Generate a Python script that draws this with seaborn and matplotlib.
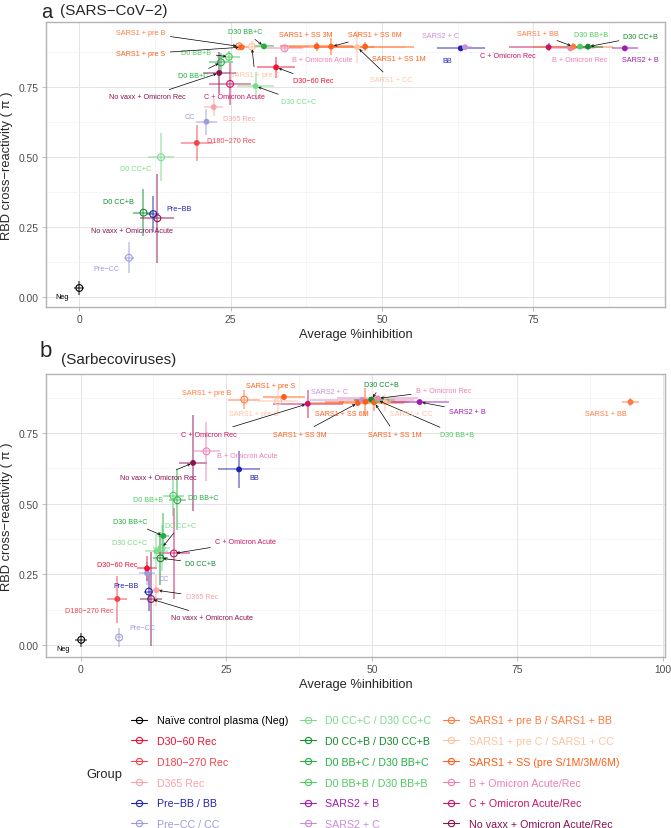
"""Cross-reactivity vs average %inhibition, two panels (SARS-CoV-2 / Sarbecoviruses)."""

import matplotlib

matplotlib.use("Agg")
import matplotlib.pyplot as plt
import pandas as pd
import seaborn as sns
from matplotlib.lines import Line2D

sns.set_theme(style="white")
plt.rcParams["font.family"] = ["Liberation Sans", "DejaVu Sans"]

# ---- groups (legend order) ----
GROUP_ORDER = ["neg", "d30", "d180", "d365", "bb", "cc",
               "ccc", "ccb", "bbc", "bbb", "s2b", "s2c",
               "s1b", "s1c", "s1s", "bom", "com", "nvo"]
GROUP_NAMES = {
    "neg": "Naïve control plasma (Neg)",
    "d30": "D30\u221260 Rec",
    "d180": "D180\u2212270 Rec",
    "d365": "D365 Rec",
    "bb": "Pre\u2212BB / BB",
    "cc": "Pre\u2212CC / CC",
    "ccc": "D0 CC+C / D30 CC+C",
    "ccb": "D0 CC+B / D30 CC+B",
    "bbc": "D0 BB+C / D30 BB+C",
    "bbb": "D0 BB+B / D30 BB+B",
    "s2b": "SARS2 + B",
    "s2c": "SARS2 + C",
    "s1b": "SARS1 + pre B / SARS1 + BB",
    "s1c": "SARS1 + pre C / SARS1 + CC",
    "s1s": "SARS1 + SS (pre S/1M/3M/6M)",
    "bom": "B + Omicron Acute/Rec",
    "com": "C + Omicron Acute/Rec",
    "nvo": "No vaxx + Omicron Acute/Rec",
}
PALETTE = {
    "neg": "#000000", "d30": "#EE1133", "d180": "#F4424F", "d365": "#F9A3A8",
    "bb": "#2222B0", "cc": "#9C9CDC", "ccc": "#7ADB8B", "ccb": "#138A2C",
    "bbc": "#24AF44", "bbb": "#4FCB62", "s2b": "#A01AB4", "s2c": "#C98ED9",
    "s1b": "#FF7A3D", "s1c": "#FFC2A2", "s1s": "#FF5E19", "bom": "#EE80B4",
    "com": "#C81466", "nvo": "#8A1150",
}

# ---- panel a: SARS-CoV-2 ----
a_label = ["Neg", "Pre\u2212CC", "Pre\u2212BB", "D0 CC+B", "No vaxx + Omicron Acute",
           "D0 CC+C", "D180\u2212270 Rec", "CC", "D365 Rec", "C + Omicron Acute",
           "D30 CC+C", "No vaxx + Omicron Rec", "D30\u221260 Rec", "D0 BB+C", "D0 BB+B",
           "SARS1 + pre B", "SARS1 + pre S", "SARS1 + pre C", "D30 BB+C",
           "B + Omicron Acute", "SARS1 + SS 3M", "SARS1 + SS 6M", "SARS1 + CC",
           "SARS1 + SS 1M", "BB", "SARS2 + C", "C + Omicron Rec", "B + Omicron Rec",
           "SARS1 + BB", "D30 BB+B", "D30 CC+B", "SARS2 + B"]
a_group = ["neg", "cc", "bb", "ccb", "nvo", "ccc", "d180", "cc", "d365", "com",
           "ccc", "nvo", "d30", "bbc", "bbb", "s1b", "s1s", "s1c", "bbc", "bom",
           "s1s", "s1s", "s1c", "s1s", "bb", "s2c", "com", "bom", "s1b", "bbb",
           "ccb", "s2b"]
a_x = [0.0, 8.2, 12.2, 10.6, 12.9, 13.5, 19.4, 21.0, 22.2, 24.9, 29.1, 23.1, 32.5,
       23.4, 24.7, 26.4, 26.8, 28.5, 30.5, 33.9, 39.2, 41.6, 45.9, 47.2, 63.0, 63.7,
       77.5, 81.1, 81.6, 82.7, 84.0, 90.1]
a_y = [0.033, 0.141, 0.297, 0.302, 0.282, 0.500, 0.551, 0.627, 0.679, 0.762, 0.754,
       0.801, 0.821, 0.839, 0.859, 0.896, 0.893, 0.895, 0.896, 0.889, 0.896, 0.895,
       0.893, 0.895, 0.889, 0.893, 0.893, 0.889, 0.895, 0.895, 0.895, 0.889]
a_xerr = [0.8, 0.8, 1.0, 1.8, 2.8, 2.1, 2.6, 1.7, 1.6, 3.4, 3.0, 2.7, 3.1, 2.0, 1.9,
          1.0, 1.2, 2.0, 1.6, 3.0, 6.0, 7.0, 8.0, 8.0, 4.0, 1.2, 6.5, 4.0, 6.6, 2.5,
          2.5, 2.2]
a_yerr = [0.025, 0.055, 0.065, 0.085, 0.158, 0.085, 0.065, 0.047, 0.032, 0.074, 0.05,
          0.075, 0.037, 0.034, 0.02, 0.008, 0.008, 0.02, 0.01, 0.01, 0.015, 0.03,
          0.057, 0.015, 0.006, 0.008, 0.015, 0.008, 0.012, 0.008, 0.008, 0.006]
a_open = [1, 1, 1, 1, 1, 1, 0, 0, 0, 1, 0, 0, 0, 1, 1, 1, 0, 1, 0, 1, 0, 0, 0, 0,
          0, 0, 0, 0, 0, 0, 0, 0]

# ---- panel b: Sarbecoviruses ----
b_label = ["Neg", "Pre\u2212CC", "D180\u2212270 Rec", "No vaxx + Omicron Acute", "Pre\u2212BB",
           "D365 Rec", "CC", "D30\u221260 Rec", "D0 CC+B", "C + Omicron Acute", "D30 CC+C",
           "D0 CC+C", "D30 BB+C", "D0 BB+C", "D0 BB+B", "BB", "No vaxx + Omicron Rec",
           "B + Omicron Acute", "SARS1 + pre B", "SARS1 + pre S", "SARS1 + pre C",
           "C + Omicron Rec", "SARS1 + SS 3M", "SARS2 + C", "SARS1 + SS 6M", "D30 CC+B",
           "SARS1 + SS 1M", "D30 BB+B", "B + Omicron Rec", "SARS1 + CC", "SARS2 + B",
           "SARS1 + BB"]
b_group = ["neg", "cc", "d180", "nvo", "bb", "d365", "cc", "d30", "ccb", "com", "ccc",
           "ccc", "bbc", "bbc", "bbb", "bb", "nvo", "bom", "s1b", "s1s", "s1c", "com",
           "s1s", "s2c", "s1s", "ccb", "s1s", "bbb", "bom", "s1c", "s2b", "s1b"]
b_x = [0.1, 6.6, 6.3, 12.1, 11.7, 13.0, 11.4, 11.4, 13.7, 16.0, 13.0, 13.9, 14.2, 16.6,
       15.9, 27.2, 19.3, 21.6, 28.1, 34.9, 33.9, 39.0, 47.6, 48.3, 48.9, 49.9, 50.4,
       50.9, 51.0, 52.3, 58.2, 94.4]
b_y = [0.019, 0.027, 0.163, 0.163, 0.189, 0.194, 0.254, 0.271, 0.307, 0.324, 0.331,
       0.343, 0.386, 0.512, 0.528, 0.621, 0.644, 0.685, 0.868, 0.877, 0.862, 0.853,
       0.856, 0.866, 0.860, 0.868, 0.858, 0.866, 0.872, 0.858, 0.859, 0.859]
b_xerr = [1.0, 0.3, 1.7, 1.95, 0.8, 1.0, 1.3, 1.7, 1.3, 2.7, 2.0, 1.5, 1.0, 1.5, 1.8,
          3.6, 2.35, 2.3, 2.75, 3.6, 3.5, 6.0, 8.0, 9.0, 7.0, 3.0, 6.0, 3.0, 7.0, 7.0,
          5.0, 1.5]
b_yerr = [0.025, 0.033, 0.083, 0.166, 0.068, 0.055, 0.04, 0.045, 0.094, 0.16, 0.06,
          0.08, 0.082, 0.106, 0.07, 0.064, 0.17, 0.104, 0.035, 0.01, 0.04, 0.05, 0.01,
          0.01, 0.05, 0.01, 0.03, 0.01, 0.01, 0.03, 0.008, 0.015]
b_open = [1, 1, 0, 1, 1, 0, 0, 0, 1, 1, 0, 1, 0, 1, 1, 0, 0, 1, 1, 0, 1, 0, 0, 0, 0,
          0, 0, 0, 0, 0, 0, 0]

# label placement (layout only): label -> (text x, text y, draw arrow)
a_text_pos = {
    "Neg": (-2.86, 0.004, False), "Pre\u2212CC": (4.41, 0.104, False),
    "Pre\u2212BB": (16.55, 0.318, False), "D0 CC+B": (6.47, 0.341, False),
    "No vaxx + Omicron Acute": (8.78, 0.238, False), "D0 CC+C": (9.36, 0.458, False),
    "D180\u2212270 Rec": (25.05, 0.561, False), "CC": (18.3, 0.645, False),
    "D365 Rec": (26.4, 0.637, False), "C + Omicron Acute": (25.6, 0.716, False),
    "D30 CC+C": (36.2, 0.699, True), "No vaxx + Omicron Rec": (11.26, 0.716, True),
    "D30\u221260 Rec": (38.6, 0.773, True), "D0 BB+C": (18.86, 0.791, True),
    "D0 BB+B": (19.35, 0.873, True), "SARS1 + pre B": (10.19, 0.946, True),
    "SARS1 + pre S": (10.19, 0.869, True), "SARS1 + pre C": (29.0, 0.794, True),
    "D30 BB+C": (27.4, 0.948, True), "B + Omicron Acute": (40.2, 0.848, False),
    "SARS1 + SS 3M": (37.4, 0.938, False), "SARS1 + SS 6M": (48.8, 0.937, True),
    "SARS1 + CC": (51.5, 0.777, True), "SARS1 + SS 1M": (52.7, 0.854, False),
    "BB": (60.7, 0.847, False), "SARS2 + C": (59.6, 0.934, False),
    "C + Omicron Rec": (70.8, 0.865, False), "B + Omicron Rec": (82.6, 0.849, False),
    "SARS1 + BB": (75.7, 0.943, True), "D30 BB+B": (84.6, 0.940, False),
    "D30 CC+B": (92.75, 0.931, True), "SARS2 + B": (92.6, 0.848, False),
}
b_text_pos = {
    "Neg": (-2.97, -0.012, False), "Pre\u2212CC": (10.6, 0.063, False),
    "D180\u2212270 Rec": (1.41, 0.121, False), "No vaxx + Omicron Acute": (22.6, 0.097, True),
    "Pre\u2212BB": (7.85, 0.212, False), "D365 Rec": (20.8, 0.171, True),
    "CC": (14.3, 0.236, False), "D30\u221260 Rec": (6.2, 0.286, False),
    "D0 CC+B": (20.6, 0.290, True), "C + Omicron Acute": (28.3, 0.365, True),
    "D30 CC+C": (8.45, 0.361, False), "D0 CC+C": (17.1, 0.424, True),
    "D30 BB+C": (8.45, 0.436, True), "D0 BB+C": (21.1, 0.520, False),
    "D0 BB+B": (11.6, 0.514, False), "BB": (29.85, 0.594, False),
    "No vaxx + Omicron Rec": (13.35, 0.594, True), "B + Omicron Acute": (28.6, 0.669, False),
    "SARS1 + pre B": (21.6, 0.891, False), "SARS1 + pre S": (32.7, 0.917, False),
    "SARS1 + pre C": (29.7, 0.820, False), "C + Omicron Rec": (22.1, 0.746, True),
    "SARS1 + SS 3M": (37.7, 0.746, True), "SARS2 + C": (42.8, 0.895, False),
    "SARS1 + SS 6M": (44.8, 0.820, False), "D30 CC+B": (51.7, 0.920, True),
    "SARS1 + SS 1M": (54.0, 0.746, True), "D30 BB+B": (64.6, 0.744, True),
    "B + Omicron Rec": (62.3, 0.900, True), "SARS1 + CC": (56.8, 0.818, False),
    "SARS2 + B": (66.4, 0.827, True), "SARS1 + BB": (90.2, 0.818, False),
}

LABEL_FS = 5.2
TICK_FS = 7.4
TITLE_FS = 9.3


def make_df(label, group, x, y, xerr, yerr, is_open):
    return pd.DataFrame({"label": label, "group": group, "x": x, "y": y,
                         "xerr": xerr, "yerr": yerr, "open": [bool(v) for v in is_open]})


def draw_panel(ax, df, text_pos, xlim, ylim, xticks):
    for row in df.itertuples():
        ax.errorbar(row.x, row.y, xerr=row.xerr, yerr=row.yerr, fmt="none",
                    ecolor=PALETTE[row.group], elinewidth=1.1, alpha=0.6,
                    capsize=0, zorder=2)

    sns.scatterplot(data=df[~df["open"]], x="x", y="y", hue="group", palette=PALETTE,
                    s=18, linewidth=0, legend=False, ax=ax, zorder=3)
    sns.scatterplot(data=df[df["open"]], x="x", y="y", hue="group", palette=PALETTE,
                    s=24, legend=False, ax=ax, zorder=3)
    hollow = ax.collections[-1]
    hollow.set_edgecolors(hollow.get_facecolors())
    hollow.set_facecolors("none")
    hollow.set_linewidth(0.8)

    for row in df.itertuples():
        tx, ty, arrow = text_pos[row.label]
        color = PALETTE[row.group]
        if arrow:
            ax.annotate(row.label, xy=(row.x, row.y), xytext=(tx, ty), color=color,
                        fontsize=LABEL_FS, ha="center", va="center", zorder=4,
                        arrowprops=dict(arrowstyle="->,head_length=0.3,head_width=0.15",
                                        color="black", lw=0.5, shrinkA=1, shrinkB=2))
        else:
            ax.text(tx, ty, row.label, color=color, fontsize=LABEL_FS,
                    ha="center", va="center", zorder=4)

    ax.set_xlim(*xlim)
    ax.set_ylim(*ylim)
    ax.set_xticks(xticks)
    minor_x = [t + 12.5 for t in xticks if t + 12.5 < xlim[1]]
    ax.set_xticks(minor_x, minor=True)
    ax.set_yticks([0, 0.25, 0.5, 0.75])
    ax.set_yticklabels(["0.00", "0.25", "0.50", "0.75"])
    ax.set_yticks([0.125, 0.375, 0.625, 0.875], minor=True)
    ax.grid(which="major", color="#E4E4E4", lw=0.7)
    ax.grid(which="minor", color="#F0F0F0", lw=0.45)
    ax.set_axisbelow(True)
    for sp in ax.spines.values():
        sp.set_color("#B3B3B3")
        sp.set_linewidth(1.0)
    ax.tick_params(which="major", bottom=True, left=True, length=3, width=0.6,
                   color="#B3B3B3", labelsize=TICK_FS, labelcolor="#4D4D4D", pad=2)
    ax.tick_params(which="minor", length=0)
    ax.set_xlabel("Average %inhibition", fontsize=TITLE_FS, labelpad=2.5)
    ax.set_ylabel("")


fig = plt.figure(figsize=(6.71, 8.29), dpi=100)
ax_a = fig.add_axes([0.0681, 0.6281, 0.9236, 0.3438])
ax_b = fig.add_axes([0.0681, 0.2059, 0.9236, 0.3417])

df_a = make_df(a_label, a_group, a_x, a_y, a_xerr, a_yerr, a_open)
df_b = make_df(b_label, b_group, b_x, b_y, b_xerr, b_yerr, b_open)

draw_panel(ax_a, df_a, a_text_pos, (-5.55, 96.8), (-0.036, 0.982), [0, 25, 50, 75])
draw_panel(ax_b, df_b, b_text_pos, (-6.0, 100.4), (-0.043, 0.958), [0, 25, 50, 75, 100])

ylab = "RBD cross\u2212reactivity ( \u03c0 )"
fig.text(7.5 / 671, 1 - 166 / 829, ylab, rotation=90, ha="center", va="center", fontsize=TITLE_FS)
fig.text(7.5 / 671, 1 - 517 / 829, ylab, rotation=90, ha="center", va="center", fontsize=TITLE_FS)

fig.text(41 / 671, 1 - 18 / 829, "a", fontsize=14.5, va="baseline")
fig.text(60 / 671, 1 - 15 / 829, "(SARS\u2212CoV\u22122)", fontsize=11, va="baseline")
fig.text(40 / 671, 1 - 356.7 / 829, "b", fontsize=16, va="baseline")
fig.text(60.5 / 671, 1 - 364 / 829, "(Sarbecoviruses)", fontsize=11, va="baseline")

handles = [Line2D([0], [0], color=PALETTE[g], lw=0.8, marker="o", markersize=4.5,
                  markerfacecolor="none", markeredgewidth=0.8) for g in GROUP_ORDER]
leg = fig.legend(handles, [GROUP_NAMES[g] for g in GROUP_ORDER], ncol=3,
                 loc="upper left", bbox_to_anchor=(131 / 671, 1 - 716.5 / 829),
                 frameon=False, fontsize=7.7, handlelength=1.5, handletextpad=0.9,
                 columnspacing=1.1, labelspacing=1.0, borderpad=0, borderaxespad=0)
for txt, g in zip(leg.get_texts(), GROUP_ORDER):
    txt.set_color(PALETTE[g])
fig.text(86 / 671, 1 - 775 / 829, "Group", fontsize=TITLE_FS, va="center")

fig.savefig("out.png", dpi=100)
plt.close(fig)
